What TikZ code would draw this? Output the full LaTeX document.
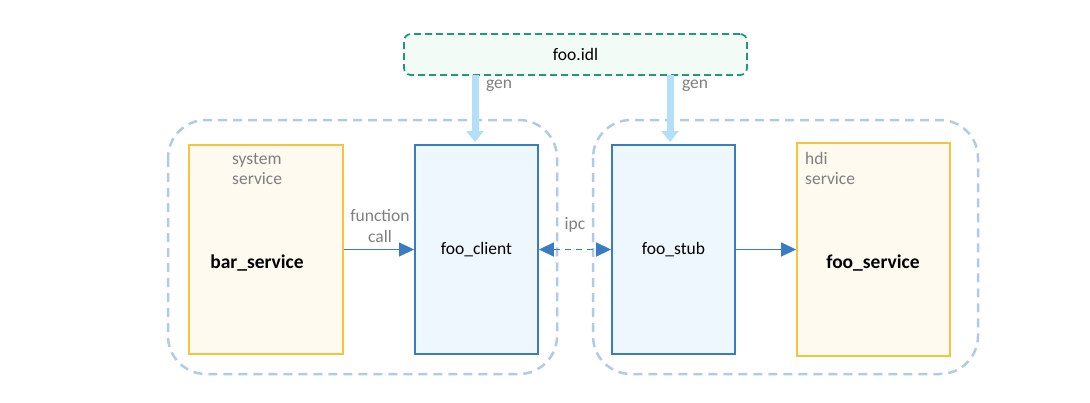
\documentclass[tikz,border=0pt]{standalone}
\usepackage{fontspec}
\setmainfont{Carlito}
\usetikzlibrary{arrows.meta}
\definecolor{idlborder}{HTML}{1E9A78}
\definecolor{idlfill}{HTML}{F3FBF6}
\definecolor{genblue}{HTML}{B3E0F8}
\definecolor{grpblue}{HTML}{AFCBE6}
\definecolor{ylw}{HTML}{F5C342}
\definecolor{ylwfill}{HTML}{FFFAF0}
\definecolor{blu}{HTML}{3A7CC4}
\definecolor{blufill}{HTML}{EEF7FD}
\definecolor{lbl}{HTML}{7F7F7F}
\tikzset{
  x=1pt, y=-1pt,
  every node/.style={font=\fontsize{17.5}{20.5}\selectfont},
  bigbold/.style={font=\fontsize{19.5}{22}\selectfont\bfseries},
  grp/.style={draw=grpblue, line width=2.5pt, dash pattern=on 9pt off 6pt, rounded corners=38pt},
  svcbox/.style={draw=ylw, fill=ylwfill, line width=1.8pt},
  ipcbox/.style={draw=blu, fill=blufill, line width=1.8pt},
  genarrow/.style={draw=genblue, line width=7pt, -{Triangle[length=11pt,width=17pt]}},
  conn/.style={draw=blu, line width=1pt, -{Triangle[length=15pt,width=14pt]}},
  lab/.style={text=lbl, align=center},
}
\begin{document}
\begin{tikzpicture}
\useasboundingbox (0,0) rectangle (1090,402);
% groups
\draw[grp] (168,120) rectangle (557,374);
\draw[grp] (593,120) rectangle (978,374);
% idl
\node[draw=idlborder, fill=idlfill, line width=1.8pt, dash pattern=on 7pt off 4pt, rounded corners=7pt, minimum width=343pt, minimum height=41pt, inner sep=0pt] (idl) at (575.5,54.5) {foo.idl};
% boxes
\node[svcbox, minimum width=154pt, minimum height=209pt, inner sep=0pt] (bar) at (266,249.5) {};
\node[bigbold] (barlbl) at (257,263) {bar\_service};
\node[lab, anchor=north west, align=left, inner sep=0pt] (syslbl) at (232,153) {system\\service};
\node[ipcbox, minimum width=123pt, minimum height=209pt, inner sep=0pt] (client) at (476.5,249.5) {foo\_client};
\node[ipcbox, minimum width=123pt, minimum height=209pt, inner sep=0pt] (stub) at (673.5,249.5) {foo\_stub};
\node[svcbox, minimum width=153pt, minimum height=213pt, inner sep=0pt] (svc) at (873.5,249.5) {};
\node[bigbold] (svclbl) at (873,263) {foo\_service};
\node[lab, anchor=north west, align=left, inner sep=0pt] (hdilbl) at (805,152) {hdi\\service};
% gen arrows
\coordinate (g1s) at (475,75);
\coordinate (g1e) at (475,142);
\coordinate (g2s) at (670,75);
\coordinate (g2e) at (670,142);
\draw[genarrow] (g1s) -- (g1e);
\draw[genarrow] (g2s) -- (g2e);
\node[lab] (gen1) at (499,86) {gen};
\node[lab] (gen2) at (695,86) {gen};
% connectors
\draw[conn] (bar.east |- client.west) -- (client.west);
\node[lab] (fc) at (380,226) {function\\call};
\draw[conn, {Triangle[length=15pt,width=14pt]}-{Triangle[length=15pt,width=14pt]}, line width=1.5pt, dash pattern=on 6pt off 5pt] (client.east) -- (stub.west);
\node[lab] (ipc) at (575,225) {ipc};
\draw[conn] (stub.east) -- (stub.east -| svc.west);
\end{tikzpicture}
\end{document}
